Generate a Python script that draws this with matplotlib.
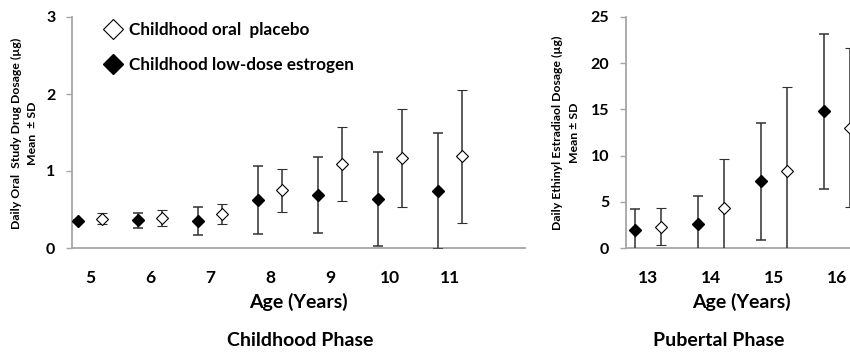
import matplotlib
matplotlib.use("Agg")
import matplotlib.pyplot as plt
from matplotlib.lines import Line2D

plt.rcParams["font.family"] = ["Lato", "DejaVu Sans"]
plt.rcParams["font.weight"] = "bold"

# childhood phase (ages 5-11)
child_ages = [5, 6, 7, 8, 9, 10, 11]
child_est_mean = [0.35, 0.36, 0.35, 0.62, 0.69, 0.64, 0.74]
child_est_sd = [0.01, 0.10, 0.18, 0.44, 0.49, 0.61, 0.75]
child_plc_mean = [0.38, 0.39, 0.44, 0.75, 1.09, 1.17, 1.19]
child_plc_sd = [0.07, 0.10, 0.13, 0.28, 0.48, 0.64, 0.86]

# pubertal phase (ages 13-16)
pub_ages = [13, 14, 15, 16]
pub_est_mean = [1.9, 2.6, 7.2, 14.8]
pub_est_sd = [2.3, 3.0, 6.3, 8.4]
pub_plc_mean = [2.3, 4.3, 8.3, 13.0]
pub_plc_sd = [2.0, 5.3, 9.1, 8.6]

AXIS_GRAY = "#a6a6a6"
BAR_COLOR = "#303030"
W, H = 850, 353


def px(x0, y0, w, h):
    # pixel box (from top-left) to figure fraction
    return [x0 / W, (H - y0 - h) / H, w / W, h / H]


def draw(ax, ages, est_m, est_sd, plc_m, plc_sd, off=0.2):
    xe = [a - off for a in ages]
    xp = [a + off for a in ages]
    ax.errorbar(xe, est_m, yerr=est_sd, fmt="D", ms=6.5, mfc="black", mec="black",
                ecolor=BAR_COLOR, elinewidth=1.1, capsize=3.5, capthick=1.1, zorder=3)
    ax.errorbar(xp, plc_m, yerr=plc_sd, fmt="D", ms=6.5, mfc="white", mec="black",
                mew=0.8, ecolor=BAR_COLOR, elinewidth=1.1, capsize=3.5, capthick=1.1, zorder=3)
    for s in ["top", "right"]:
        ax.spines[s].set_visible(False)
    for s in ["left", "bottom"]:
        ax.spines[s].set_color(AXIS_GRAY)
        ax.spines[s].set_linewidth(1.3)
    ax.tick_params(axis="y", direction="out", length=4, width=1, color=AXIS_GRAY,
                   labelsize=11.5, pad=8)
    ax.tick_params(axis="x", length=0, labelsize=12.5, pad=16)
    ax.set_xticks(ages)
    ax.set_xticklabels([str(a) for a in ages])


fig = plt.figure(figsize=(8.5, 3.53), dpi=100)

ax1 = fig.add_axes(px(72, 17, 453, 231))
draw(ax1, child_ages, child_est_mean, child_est_sd, child_plc_mean, child_plc_sd)
ax1.set_xlim(4.7, 12.25)
ax1.set_ylim(0, 3)
ax1.set_yticks([0, 1, 2, 3])

ax2 = fig.add_axes(px(626, 17, (17.5 - 12.65) * 63, 231))
draw(ax2, pub_ages, pub_est_mean, pub_est_sd, pub_plc_mean, pub_plc_sd)
ax2.set_xlim(12.65, 17.5)
ax2.set_ylim(0, 25)
ax2.set_yticks([0, 5, 10, 15, 20, 25])

handles = [
    Line2D([], [], marker="D", ls="none", ms=10, mfc="white", mec="black", mew=0.8),
    Line2D([], [], marker="D", ls="none", ms=10, mfc="black", mec="black"),
]
ax1.legend(handles, ["Childhood oral  placebo", "Childhood low-dose estrogen"],
           loc="upper left", bbox_to_anchor=(0.04, 1.045), frameon=False,
           handlelength=0.9, handletextpad=0.5, labelspacing=1.1,
           prop={"size": 12.3, "weight": "bold"})

# y labels
fig.text(16 / W, 1 - 133 / H, "Daily Oral  Study Drug Dosage (\u00b5g)", rotation=90,
         ha="center", va="center", fontsize=8.8)
fig.text(33 / W, 1 - 133 / H, "Mean  \u00b1 SD", rotation=90,
         ha="center", va="center", fontsize=8.8)
fig.text(557 / W, 1 - 133 / H, "Daily Ethinyl Estradiaol Dosage (\u00b5g)", rotation=90,
         ha="center", va="center", fontsize=8.8)
fig.text(574 / W, 1 - 133 / H, "Mean \u00b1 SD", rotation=90,
         ha="center", va="center", fontsize=8.8)

# x labels and phase titles
fig.text(298 / W, 1 - 302 / H, "Age (Years)", ha="center", va="center", fontsize=14)
fig.text(741 / W, 1 - 302 / H, "Age (Years)", ha="center", va="center", fontsize=14)
fig.text(300 / W, 1 - 340 / H, "Childhood Phase", ha="center", va="center", fontsize=14)
fig.text(719 / W, 1 - 340 / H, "Pubertal Phase", ha="center", va="center", fontsize=14)

fig.savefig("out.png", dpi=100)
